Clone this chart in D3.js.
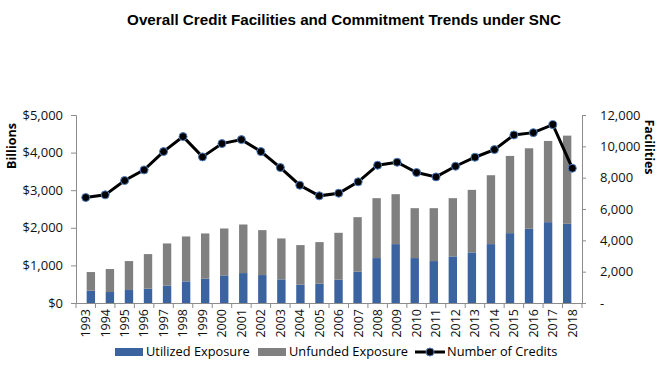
<!DOCTYPE html>
<html>
<head>
<meta charset="utf-8">
<script src="https://cdn.jsdelivr.net/npm/d3@7"></script>
<style>
  body { margin: 0; background: #fff; }
  svg text { font-family: "Open Sans", "Liberation Sans", sans-serif; }
</style>
</head>
<body>
<svg id="chart" width="666" height="365"></svg>
<script>
var years = ["1993","1994","1995","1996","1997","1998","1999","2000","2001","2002","2003","2004","2005",
             "2006","2007","2008","2009","2010","2011","2012","2013","2014","2015","2016","2017","2018"],
    utilized = [327, 292, 345, 380, 460, 575, 646, 735, 796, 743, 628, 487, 513,
                619, 832, 1195, 1566, 1195, 1115, 1239, 1345, 1566, 1858, 1973, 2150, 2106],
    totalExp = [823, 903, 1115, 1301, 1584, 1770, 1850, 1982, 2088, 1938, 1717, 1540, 1619,
                1867, 2283, 2788, 2894, 2522, 2522, 2788, 3009, 3398, 3912, 4115, 4310, 4451],
    credits = [6733, 6903, 7817, 8496, 9664, 10620, 9325, 10174, 10429, 9664, 8645, 7519, 6840,
               7009, 7732, 8794, 8985, 8326, 8050, 8730, 9303, 9792, 10726, 10875, 11385, 8602],
    leftTicks = [0, 1000, 2000, 3000, 4000, 5000],
    rightTicks = [0, 2000, 4000, 6000, 8000, 10000, 12000];

var unfunded = totalExp.map((t, i) => t - utilized[i]);

var svg = d3.select("#chart"),
    left = 76, right = 582, top_ = 115, bottom = 303,
    blue = "#3b63a0", grey = "#808080", axisCol = "#8c8c8c";

var x = d3.scaleBand().domain(years).range([left, right]).padding(0.56),
    xc = d3.scaleBand().domain(years).range([left, right]),
    yL = d3.scaleLinear().domain([0, 5000]).range([bottom, top_]),
    yR = d3.scaleLinear().domain([0, 12000]).range([bottom, top_]);

// title
svg.append("text")
    .attr("x", 344).attr("y", 25)
    .attr("text-anchor", "middle")
    .style("font-family", "'Liberation Sans', Arial, sans-serif")
    .style("font-weight", "bold").style("font-size", "15.2px")
    .text("Overall Credit Facilities and Commitment Trends under SNC");

// bars
var g = svg.append("g");
g.selectAll(".util").data(years).enter().append("rect")
    .attr("x", d => x(d)).attr("width", x.bandwidth())
    .attr("y", (d, i) => yL(utilized[i]))
    .attr("height", (d, i) => yL(0) - yL(utilized[i]))
    .attr("fill", blue);
g.selectAll(".unf").data(years).enter().append("rect")
    .attr("x", d => x(d)).attr("width", x.bandwidth())
    .attr("y", (d, i) => yL(totalExp[i]))
    .attr("height", (d, i) => yL(utilized[i]) - yL(totalExp[i]))
    .attr("fill", grey);

// axes
var axL = d3.axisLeft(yL).tickValues(leftTicks).tickSize(5).tickPadding(8)
    .tickFormat(d => "$" + d3.format(",")(d));
var axR = d3.axisRight(yR).tickValues(rightTicks).tickSize(4).tickPadding(14)
    .tickFormat(d => d == 0 ? "-" : d3.format(",")(d));
var axB = d3.axisBottom(xc).tickSize(0).tickPadding(6);

var gl = svg.append("g").attr("transform", `translate(${left},0)`).call(axL);
var gr = svg.append("g").attr("transform", `translate(${right},0)`).call(axR);
var gb = svg.append("g").attr("transform", `translate(0,${bottom})`).call(axB);

[gl, gr, gb].forEach(a => {
    a.select(".domain").attr("stroke", axisCol);
    a.selectAll(".tick line").attr("stroke", axisCol);
    a.selectAll("text").attr("fill", "#111").style("font-size", "13px");
});
gb.selectAll(".tick text")
    .attr("transform", "rotate(-90)")
    .attr("text-anchor", "end")
    .attr("x", -6).attr("y", 0).attr("dy", "0.35em")
    .style("font-size", "12.5px");

// category boundary ticks
gb.selectAll(".cat-tick").data(years.concat(["end"])).enter().append("line")
    .attr("x1", (d, i) => left + i * xc.bandwidth())
    .attr("x2", (d, i) => left + i * xc.bandwidth())
    .attr("y1", 0).attr("y2", 5)
    .attr("stroke", axisCol);

// axis titles
svg.append("text")
    .attr("transform", "translate(16,146) rotate(-90)")
    .attr("text-anchor", "middle")
    .style("font-weight", "bold").style("font-size", "12.5px")
    .text("Billions");
svg.append("text")
    .attr("transform", "translate(645,147) rotate(90)")
    .attr("text-anchor", "middle")
    .style("font-weight", "bold").style("font-size", "12.5px")
    .text("Facilities");

// credits line
var line = d3.line().x((d, i) => xc(years[i]) + xc.bandwidth() / 2).y(d => yR(d));
svg.append("path").datum(credits)
    .attr("d", line).attr("fill", "none")
    .attr("stroke", "#000").attr("stroke-width", 3);
svg.selectAll(".dot").data(credits).enter().append("circle")
    .attr("cx", (d, i) => xc(years[i]) + xc.bandwidth() / 2)
    .attr("cy", d => yR(d)).attr("r", 4)
    .attr("fill", "#000").attr("stroke", "#4f7fc0").attr("stroke-width", 1);

// legend
var lg = svg.append("g").attr("transform", "translate(0,352)");
lg.append("rect").attr("x", 115).attr("y", -4).attr("width", 28).attr("height", 8).attr("fill", blue);
lg.append("text").attr("x", 146).attr("y", 0).attr("dy", "0.35em").style("font-size", "12.8px").text("Utilized Exposure");
lg.append("rect").attr("x", 258).attr("y", -4).attr("width", 28).attr("height", 8).attr("fill", grey);
lg.append("text").attr("x", 289).attr("y", 0).attr("dy", "0.35em").style("font-size", "12.8px").text("Unfunded Exposure");
lg.append("line").attr("x1", 415).attr("x2", 445).attr("y1", 0).attr("y2", 0).attr("stroke", "#000").attr("stroke-width", 3);
lg.append("circle").attr("cx", 430).attr("cy", 0).attr("r", 4).attr("fill", "#000").attr("stroke", "#4f7fc0");
lg.append("text").attr("x", 447).attr("y", 0).attr("dy", "0.35em").style("font-size", "12.8px").text("Number of Credits");
</script>
</body>
</html>
